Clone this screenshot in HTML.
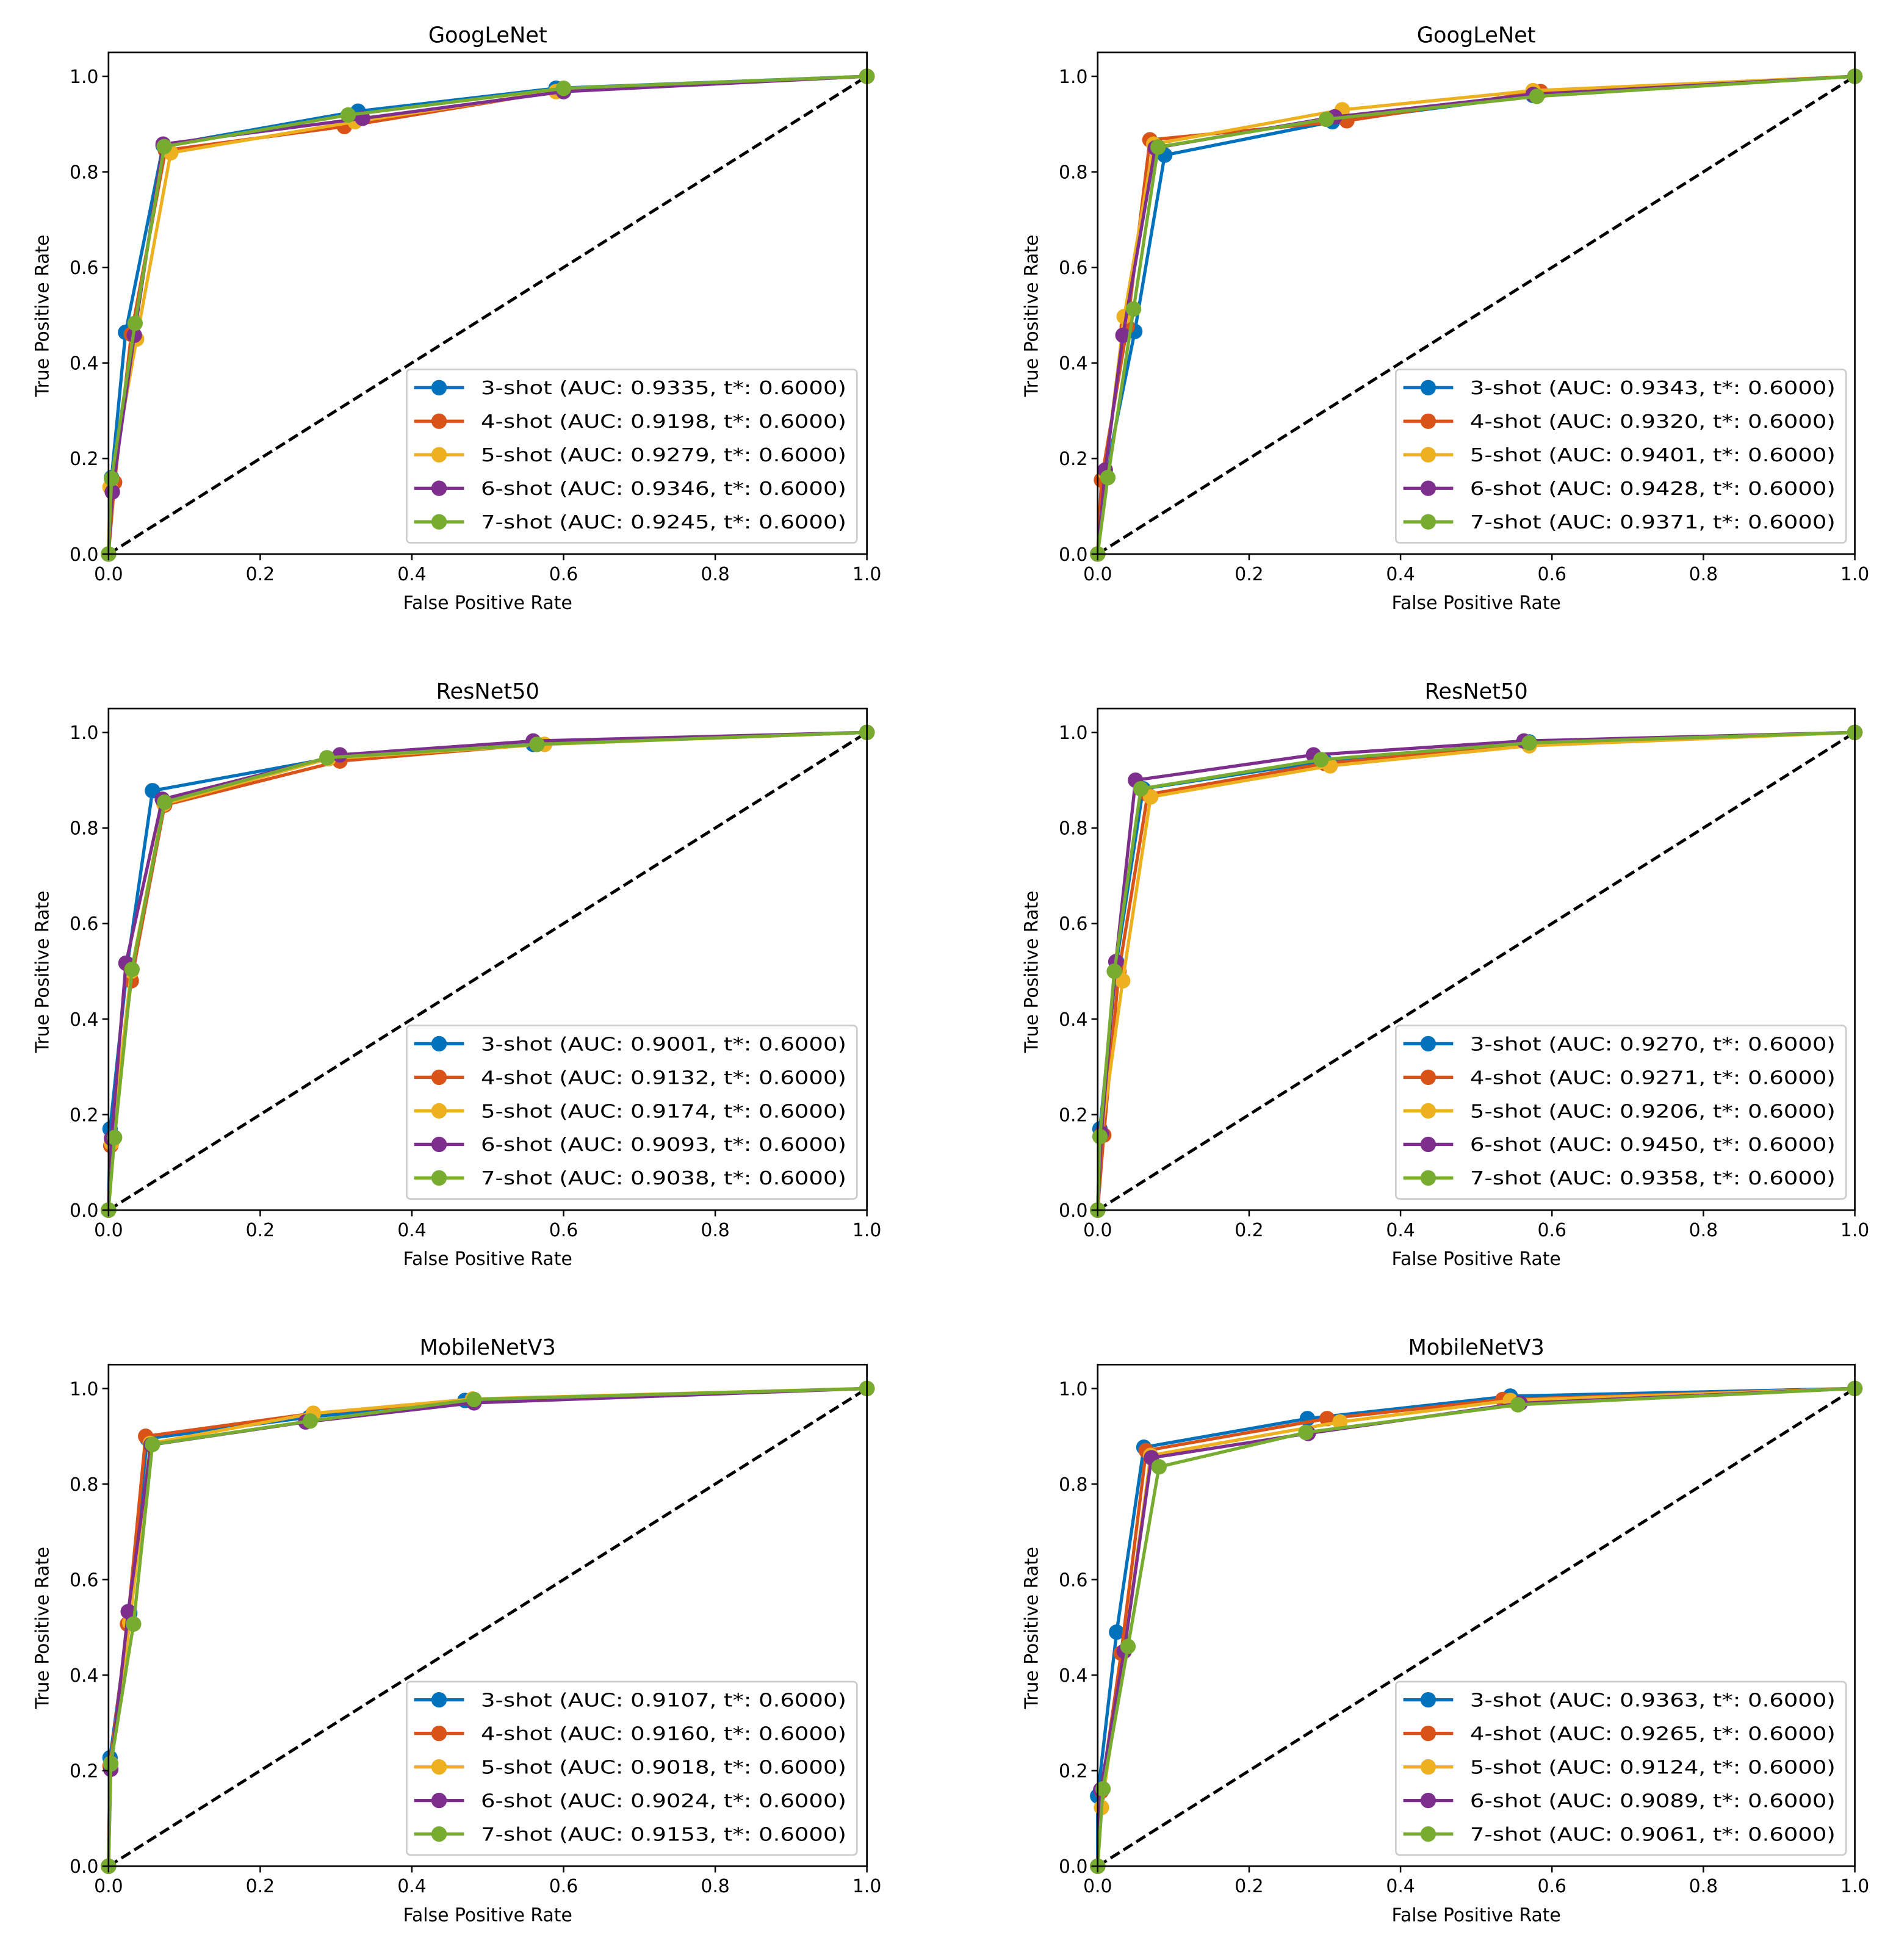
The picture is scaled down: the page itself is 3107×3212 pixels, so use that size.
<!DOCTYPE html>
<html><head><meta charset="utf-8"><style>
html,body{margin:0;padding:0;background:#fff;}
svg{display:block;}
text{font-family:"DejaVu Sans","Liberation Sans",sans-serif;fill:#000;}
</style></head><body>
<svg id="fig" width="3107" height="3212" viewBox="0 0 1520 1571" xmlns="http://www.w3.org/2000/svg"></svg>
<script>
const seriesNames = ["3-shot","4-shot","5-shot","6-shot","7-shot"];
const colors = ["#0072BD","#D95319","#EDB120","#7E2F8E","#77AC30"];
const titles = ["GoogLeNet","GoogLeNet","ResNet50","ResNet50","MobileNetV3","MobileNetV3"];
const tickValues = [0,0.2,0.4,0.6,0.8,1.0];
const tickLabels = ["0.0","0.2","0.4","0.6","0.8","1.0"];
const aucP1 = ["0.9335","0.9198","0.9279","0.9346","0.9245"];
const aucP2 = ["0.9343","0.9320","0.9401","0.9428","0.9371"];
const aucP3 = ["0.9001","0.9132","0.9174","0.9093","0.9038"];
const aucP4 = ["0.9270","0.9271","0.9206","0.9450","0.9358"];
const aucP5 = ["0.9107","0.9160","0.9018","0.9024","0.9153"];
const aucP6 = ["0.9363","0.9265","0.9124","0.9089","0.9061"];
const fprP1 = [[0,0.004,0.0225,0.072,0.329,0.59,1],[0,0.008,0.03,0.075,0.311,0.595,1],[0,0.002,0.037,0.082,0.325,0.59,1],[0,0.005,0.034,0.072,0.335,0.6,1],[0,0.004,0.035,0.0735,0.316,0.6,1]];
const tprP1 = [[0,0.16,0.464,0.855,0.927,0.975,1],[0,0.15,0.46,0.845,0.895,0.97,1],[0,0.14,0.45,0.84,0.905,0.968,1],[0,0.13,0.458,0.858,0.912,0.968,1],[0,0.158,0.483,0.853,0.919,0.975,1]];
const fprP2 = [[0,0.01,0.049,0.0885,0.31,0.575,1],[0,0.005,0.039,0.069,0.329,0.585,1],[0,0.01,0.035,0.074,0.323,0.575,1],[0,0.01,0.0334,0.076,0.313,0.575,1],[0,0.0134,0.0474,0.0798,0.302,0.58,1]];
const tprP2 = [[0,0.16,0.466,0.835,0.905,0.96,1],[0,0.155,0.476,0.867,0.907,0.968,1],[0,0.17,0.497,0.858,0.93,0.97,1],[0,0.176,0.458,0.85,0.915,0.962,1],[0,0.16,0.513,0.852,0.91,0.958,1]];
const fprP3 = [[0,0.002,0.025,0.058,0.29,0.56,1],[0,0.003,0.03,0.074,0.305,0.565,1],[0,0.004,0.03,0.073,0.29,0.575,1],[0,0.004,0.023,0.071,0.305,0.56,1],[0,0.008,0.031,0.074,0.288,0.565,1]];
const tprP3 = [[0,0.17,0.515,0.878,0.945,0.975,1],[0,0.135,0.48,0.848,0.94,0.975,1],[0,0.14,0.5,0.85,0.945,0.975,1],[0,0.15,0.517,0.86,0.953,0.982,1],[0,0.152,0.504,0.854,0.947,0.975,1]];
const fprP4 = [[0,0.003,0.025,0.06,0.3,0.57,1],[0,0.008,0.028,0.066,0.3,0.57,1],[0,0.005,0.033,0.07,0.307,0.57,1],[0,0.005,0.024,0.05,0.285,0.563,1],[0,0.003,0.022,0.057,0.295,0.57,1]];
const tprP4 = [[0,0.17,0.52,0.882,0.94,0.98,1],[0,0.157,0.5,0.87,0.935,0.975,1],[0,0.16,0.48,0.865,0.93,0.972,1],[0,0.16,0.52,0.9,0.953,0.982,1],[0,0.154,0.5,0.882,0.943,0.978,1]];
const fprP5 = [[0,0.002,0.028,0.051,0.265,0.47,1],[0,0.002,0.025,0.049,0.27,0.48,1],[0,0.003,0.028,0.055,0.27,0.48,1],[0,0.003,0.026,0.056,0.26,0.482,1],[0,0.003,0.033,0.058,0.266,0.482,1]];
const tprP5 = [[0,0.227,0.53,0.895,0.94,0.975,1],[0,0.21,0.507,0.9,0.948,0.975,1],[0,0.215,0.51,0.885,0.948,0.978,1],[0,0.203,0.533,0.882,0.93,0.97,1],[0,0.214,0.507,0.883,0.932,0.977,1]];
const fprP6 = [[0,0.0,0.025,0.061,0.277,0.545,1],[0,0.005,0.031,0.064,0.303,0.535,1],[0,0.005,0.035,0.07,0.32,0.545,1],[0,0.004,0.035,0.071,0.278,0.558,1],[0,0.007,0.04,0.081,0.275,0.555,1]];
const tprP6 = [[0,0.147,0.49,0.877,0.937,0.984,1],[0,0.157,0.446,0.87,0.937,0.977,1],[0,0.123,0.45,0.86,0.93,0.975,1],[0,0.16,0.45,0.855,0.906,0.969,1],[0,0.162,0.46,0.836,0.908,0.966,1]];

const allFpr=[fprP1,fprP2,fprP3,fprP4,fprP5,fprP6];
const allTpr=[tprP1,tprP2,tprP3,tprP4,tprP5,tprP6];
const allAuc=[aucP1,aucP2,aucP3,aucP4,aucP5,aucP6];
const NS="http://www.w3.org/2000/svg";
const svg=document.getElementById('fig');
function mk(tag,attrs,parent){const e=document.createElementNS(NS,tag);for(const k in attrs)e.setAttribute(k,attrs[k]);(parent||svg).appendChild(e);return e;}
const lefts=[87,880], widths=[608,607], bottoms=[444,970,1496], H=383;
for(let p=0;p<6;p++){
  const col=p%2,row=Math.floor(p/2);
  const x0=lefts[col],w=widths[col],y0=bottoms[row];
  const sx=v=>x0+v*w, sy=v=>y0-v*H;
  const top=sy(1.05);
  const g=mk('g',{});
  
  
  const t=mk('text',{x:x0+w/2,y:top-8,'text-anchor':'middle','font-size':17.2},g);t.textContent=titles[p];
  
  const d=mk('line',{x1:sx(0),y1:sy(0),x2:sx(1),y2:sy(1),stroke:'#000','stroke-width':2.4,'stroke-dasharray':'8.5,3.7'},g);
  
  for(let s=0;s<5;s++){
    const fx=allFpr[p][s],ty=allTpr[p][s];
    const pts=fx.map((v,i)=>sx(v)+','+sy(ty[i])).join(' ');
    const sg=mk('g',{},g);
    
    mk('polyline',{points:pts,fill:'none',stroke:colors[s],'stroke-width':2.6,'stroke-linejoin':'round'},sg);
    fx.forEach((v,i)=>{const c=mk('circle',{cx:sx(v),cy:sy(ty[i]),r:6.2,fill:colors[s]},sg);
      });
  }
  const fr=mk('rect',{x:x0,y:top,width:w,height:y0-top,fill:'none',stroke:'#000','stroke-width':1.3},g);
  
  tickValues.forEach((v,i)=>{
    mk('line',{x1:sx(v),y1:y0,x2:sx(v),y2:y0+5,stroke:'#000','stroke-width':1.2},g);
    const xt=mk('text',{x:sx(v),y:y0+21,'text-anchor':'middle','font-size':14.6},g);xt.textContent=tickLabels[i];
    
    mk('line',{x1:x0,y1:sy(v),x2:x0-5,y2:sy(v),stroke:'#000','stroke-width':1.2},g);
    const yt=mk('text',{x:x0-8,y:sy(v)+5.3,'text-anchor':'end','font-size':14.6},g);yt.textContent=tickLabels[i];
    
  });
  const xl=mk('text',{x:x0+w/2,y:y0+44,'text-anchor':'middle','font-size':14.6},g);xl.textContent='False Positive Rate';
  
  const yl=mk('text',{x:0,y:0,'text-anchor':'middle','font-size':14.6,transform:`translate(${x0-48},${(top+y0)/2+10}) rotate(-90)`},g);yl.textContent='True Positive Rate';
  
  const lx=x0+239, ly=y0-148;
  const lg=mk('g',{},g);
  
  mk('rect',{x:lx,y:ly,width:361,height:139,rx:3,fill:'#fff','fill-opacity':0.8,stroke:'#ccc','stroke-width':1.3},lg);
  for(let s=0;s<5;s++){
    const ey=ly+14.6+s*26.9;
    const eg=mk('g',{},lg);
    
    mk('line',{x1:lx+6,y1:ey,x2:lx+46,y2:ey,stroke:colors[s],'stroke-width':2.6},eg);
    mk('circle',{cx:lx+26,cy:ey,r:6.2,fill:colors[s]},eg);
    const tx=mk('text',{x:lx+59.5,y:ey+5.3,'font-size':14.8,textLength:293,lengthAdjust:'spacingAndGlyphs'},eg);
    tx.textContent=`${seriesNames[s]} (AUC: ${allAuc[p][s]}, t*: 0.6000)`;
  }
}
</script>
</body></html>
